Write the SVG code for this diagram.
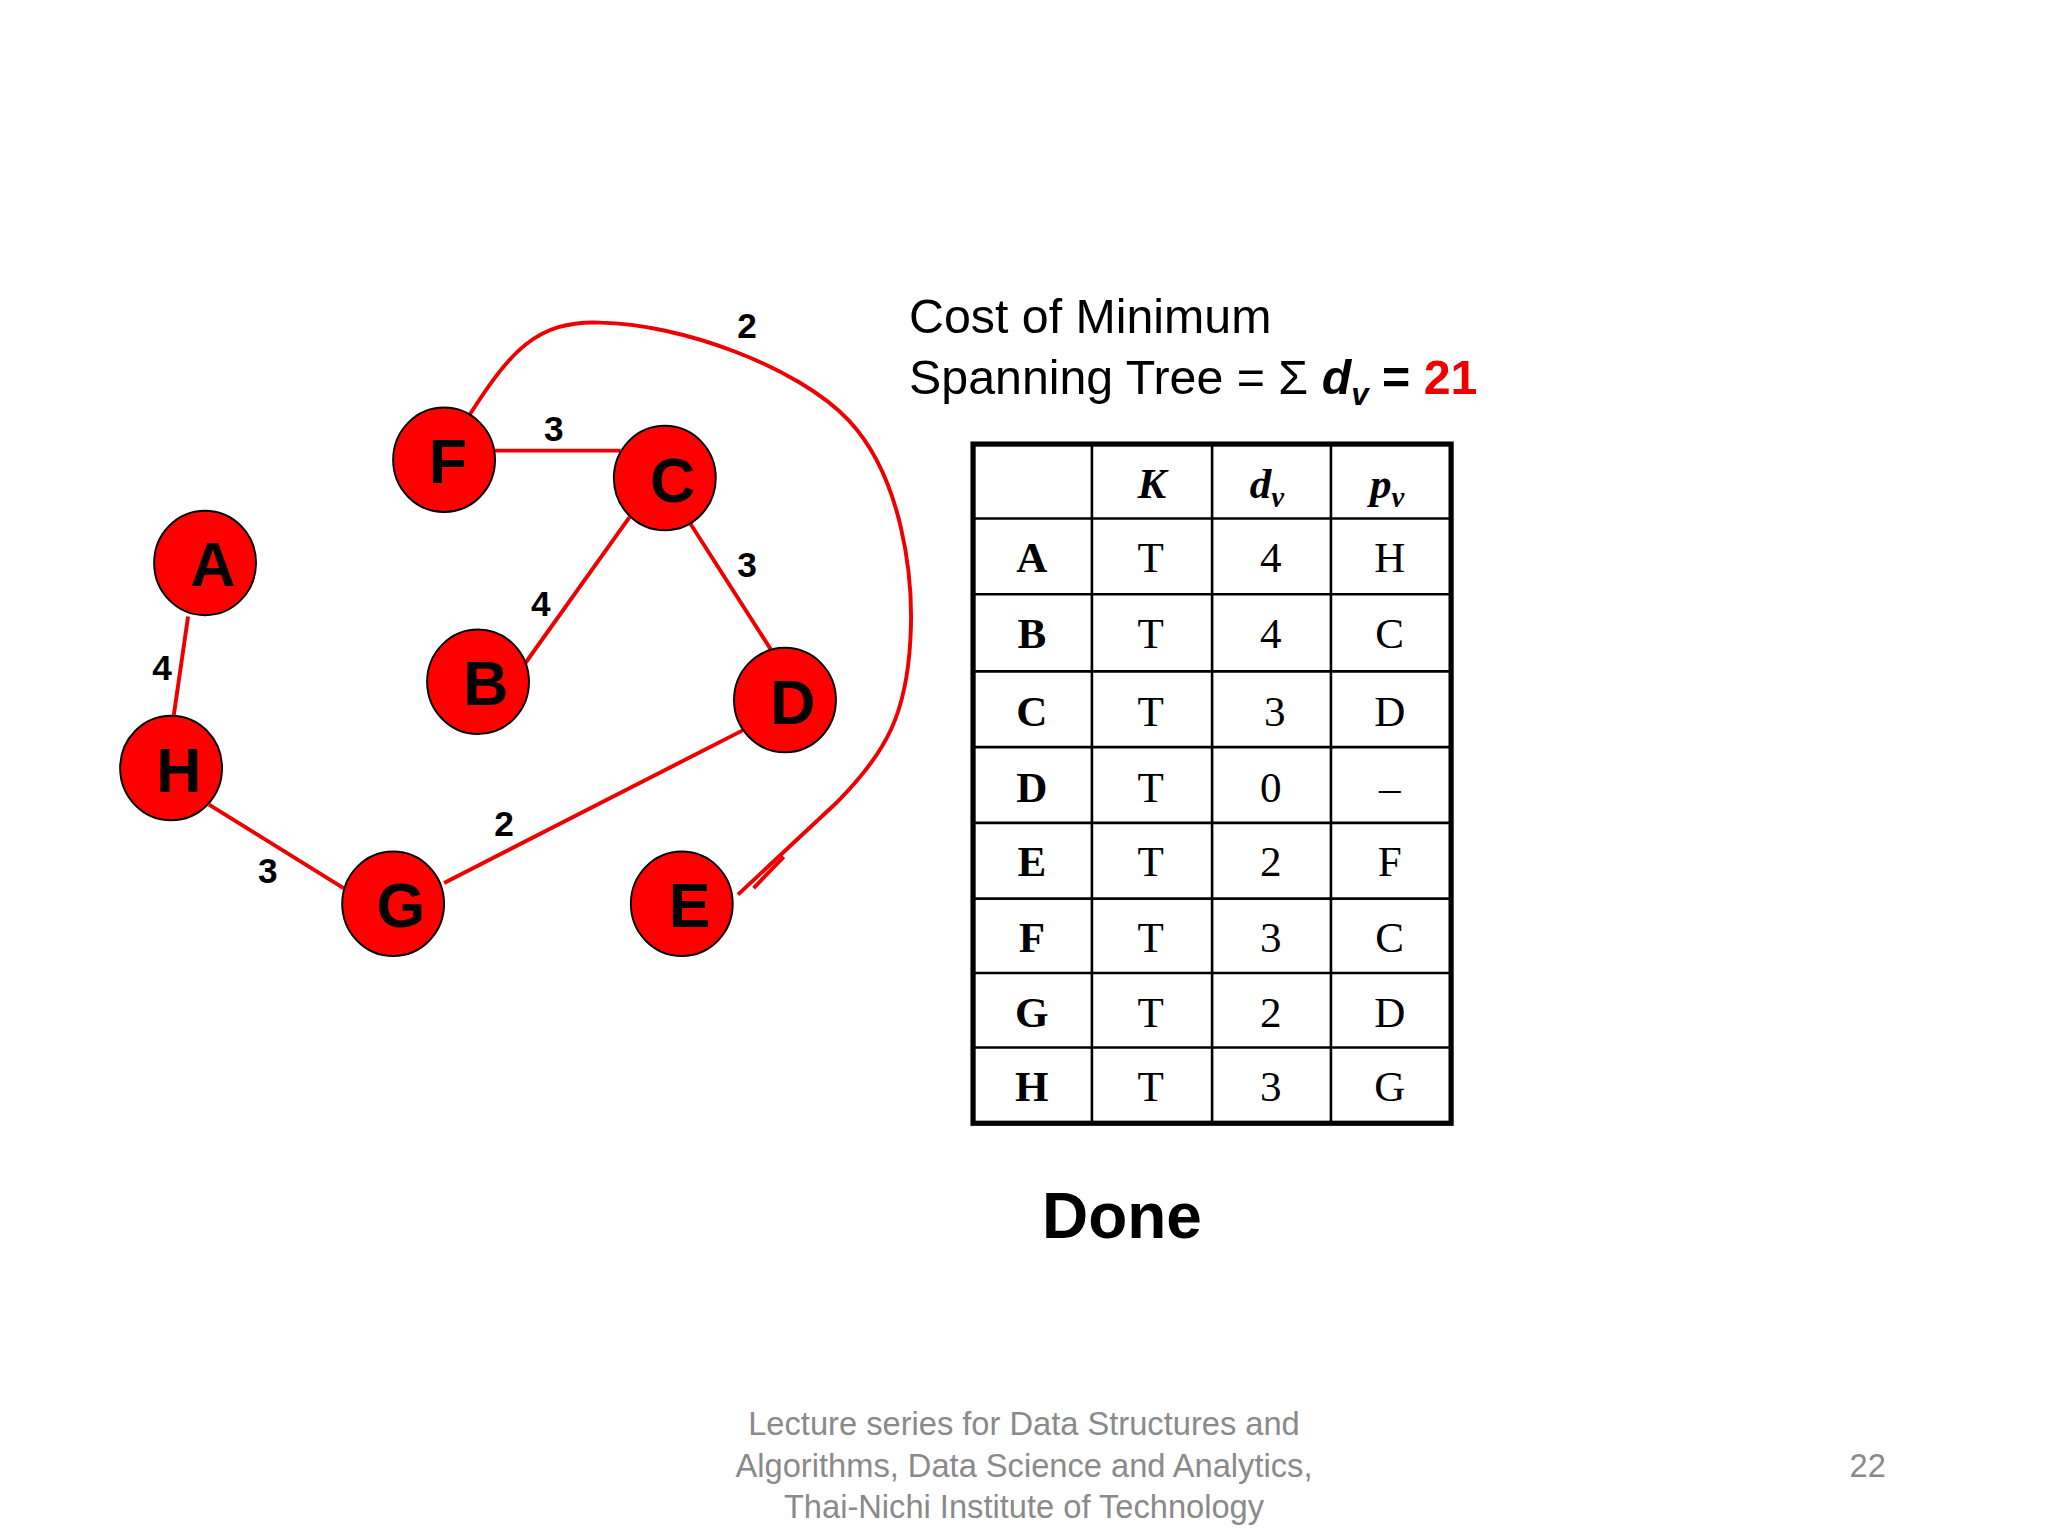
<svg xmlns="http://www.w3.org/2000/svg" width="2048" height="1536" viewBox="0 0 2048 1536">
<style>
.n{fill:#f00;stroke:#000;stroke-width:1.5}
.nl{font-family:"Liberation Sans",Arial,sans-serif;font-weight:bold;font-size:48px;text-anchor:middle;fill:#000}
.e{stroke:#e00;stroke-width:3;fill:none}
.w{font-family:"Liberation Sans",Arial,sans-serif;font-weight:bold;font-size:27px;text-anchor:middle}
.t{font-family:"Liberation Serif","Times New Roman",serif;font-size:33px;text-anchor:middle}
.tb{font-weight:bold}
.ti{font-style:italic;font-weight:bold}
.g{stroke:#000;stroke-width:2}
.f{font-family:"Liberation Sans",Arial,sans-serif;font-size:25px;fill:#8a8a8a;text-anchor:middle}
</style>
<rect width="2048" height="1536" fill="#fff"/>
<g transform="scale(1.30612)">
<g id="connectors">
<line class="e" x1="378" y1="345" x2="475" y2="345"/>
<line class="e" x1="482" y1="396" x2="402" y2="508"/>
<line class="e" x1="528" y1="400" x2="590" y2="497"/>
<line class="e" x1="144" y1="472" x2="133" y2="548"/>
<line class="e" x1="160" y1="616" x2="263" y2="680"/>
<line class="e" x1="340" y1="676" x2="569" y2="559"/>
<path class="e" d="M358,320 C390,270 410,245 460,247 C520,248 610,280 650,322 C690,365 700,440 697,490 C694,545 680,575 640,615 L565,685"/>
<path class="e" d="M577,680 L600,656"/>
<text class="w" x="572" y="259">2</text>
<text class="w" x="424" y="338">3</text>
<text class="w" x="572" y="442">3</text>
<text class="w" x="414" y="472">4</text>
<text class="w" x="124" y="521">4</text>
<text class="w" x="386" y="640">2</text>
<text class="w" x="205" y="676">3</text>
</g>
<g id="F"><ellipse class="n" cx="340" cy="352" rx="39" ry="40"/><text class="nl" x="343" y="370">F</text></g>
<g id="C"><ellipse class="n" cx="509" cy="366" rx="39" ry="40"/><text class="nl" x="515" y="384">C</text></g>
<g id="A"><ellipse class="n" cx="157" cy="431" rx="39" ry="40"/><text class="nl" x="163" y="449">A</text></g>
<g id="B"><ellipse class="n" cx="366" cy="522" rx="39" ry="40"/><text class="nl" x="372" y="540">B</text></g>
<g id="D"><ellipse class="n" cx="601" cy="536" rx="39" ry="40"/><text class="nl" x="607" y="554">D</text></g>
<g id="H"><ellipse class="n" cx="131" cy="588" rx="39" ry="40"/><text class="nl" x="137" y="606">H</text></g>
<g id="G"><ellipse class="n" cx="301" cy="692" rx="39" ry="40"/><text class="nl" x="307" y="710">G</text></g>
<g id="E"><ellipse class="n" cx="522" cy="692" rx="39" ry="40"/><text class="nl" x="528" y="710">E</text></g>
<g id="title" font-family="'Liberation Sans',Arial,sans-serif" font-size="37px">
<text x="696" y="255">Cost of Minimum</text>
<text x="696" y="302">Spanning Tree = Σ <tspan font-weight="bold" font-style="italic">d</tspan><tspan font-weight="bold" font-style="italic" font-size="24px" dy="8">v</tspan><tspan font-weight="bold" dy="-8"> = </tspan><tspan font-weight="bold" fill="#e00">21</tspan></text>
</g>
<g id="table">
<rect x="745" y="340" width="366" height="520" fill="none" stroke="#000" stroke-width="4"/>
<line class="g" x1="836" y1="340" x2="836" y2="860"/>
<line class="g" x1="928" y1="340" x2="928" y2="860"/>
<line class="g" x1="1019" y1="340" x2="1019" y2="860"/>
<line class="g" x1="745" y1="397" x2="1111" y2="397"/>
<line class="g" x1="745" y1="455" x2="1111" y2="455"/>
<line class="g" x1="745" y1="514" x2="1111" y2="514"/>
<line class="g" x1="745" y1="572" x2="1111" y2="572"/>
<line class="g" x1="745" y1="630" x2="1111" y2="630"/>
<line class="g" x1="745" y1="688" x2="1111" y2="688"/>
<line class="g" x1="745" y1="745" x2="1111" y2="745"/>
<line class="g" x1="745" y1="802" x2="1111" y2="802"/>
<text class="t ti" x="882" y="381">K</text>
<text class="t ti" x="970" y="381">d<tspan font-size="22px" dy="7">v</tspan></text>
<text class="t ti" x="1062" y="381">p<tspan font-size="22px" dy="7">v</tspan></text>
<g class="t">
<text class="tb" x="790" y="438">A</text><text x="881" y="438">T</text><text x="973" y="438">4</text><text x="1064" y="438">H</text>
<text class="tb" x="790" y="496">B</text><text x="881" y="496">T</text><text x="973" y="496">4</text><text x="1064" y="496">C</text>
<text class="tb" x="790" y="556">C</text><text x="881" y="556">T</text><text x="976" y="556">3</text><text x="1064" y="556">D</text>
<text class="tb" x="790" y="614">D</text><text x="881" y="614">T</text><text x="973" y="614">0</text><text x="1064" y="614">–</text>
<text class="tb" x="790" y="671">E</text><text x="881" y="671">T</text><text x="973" y="671">2</text><text x="1064" y="671">F</text>
<text class="tb" x="790" y="729">F</text><text x="881" y="729">T</text><text x="973" y="729">3</text><text x="1064" y="729">C</text>
<text class="tb" x="790" y="786">G</text><text x="881" y="786">T</text><text x="973" y="786">2</text><text x="1064" y="786">D</text>
<text class="tb" x="790" y="843">H</text><text x="881" y="843">T</text><text x="973" y="843">3</text><text x="1064" y="843">G</text>
</g>
</g>
<text x="859" y="948" font-family="'Liberation Sans',Arial,sans-serif" font-weight="bold" font-size="49px" text-anchor="middle">Done</text>
<g id="footer">
<text class="f" x="784" y="1099">Lecture series for Data Structures and</text>
<text class="f" x="784" y="1131">Algorithms, Data Science and Analytics,</text>
<text class="f" x="784" y="1162">Thai-Nichi Institute of Technology</text>
<text class="f" x="1430" y="1131">22</text>
</g>
</g>
</svg>
